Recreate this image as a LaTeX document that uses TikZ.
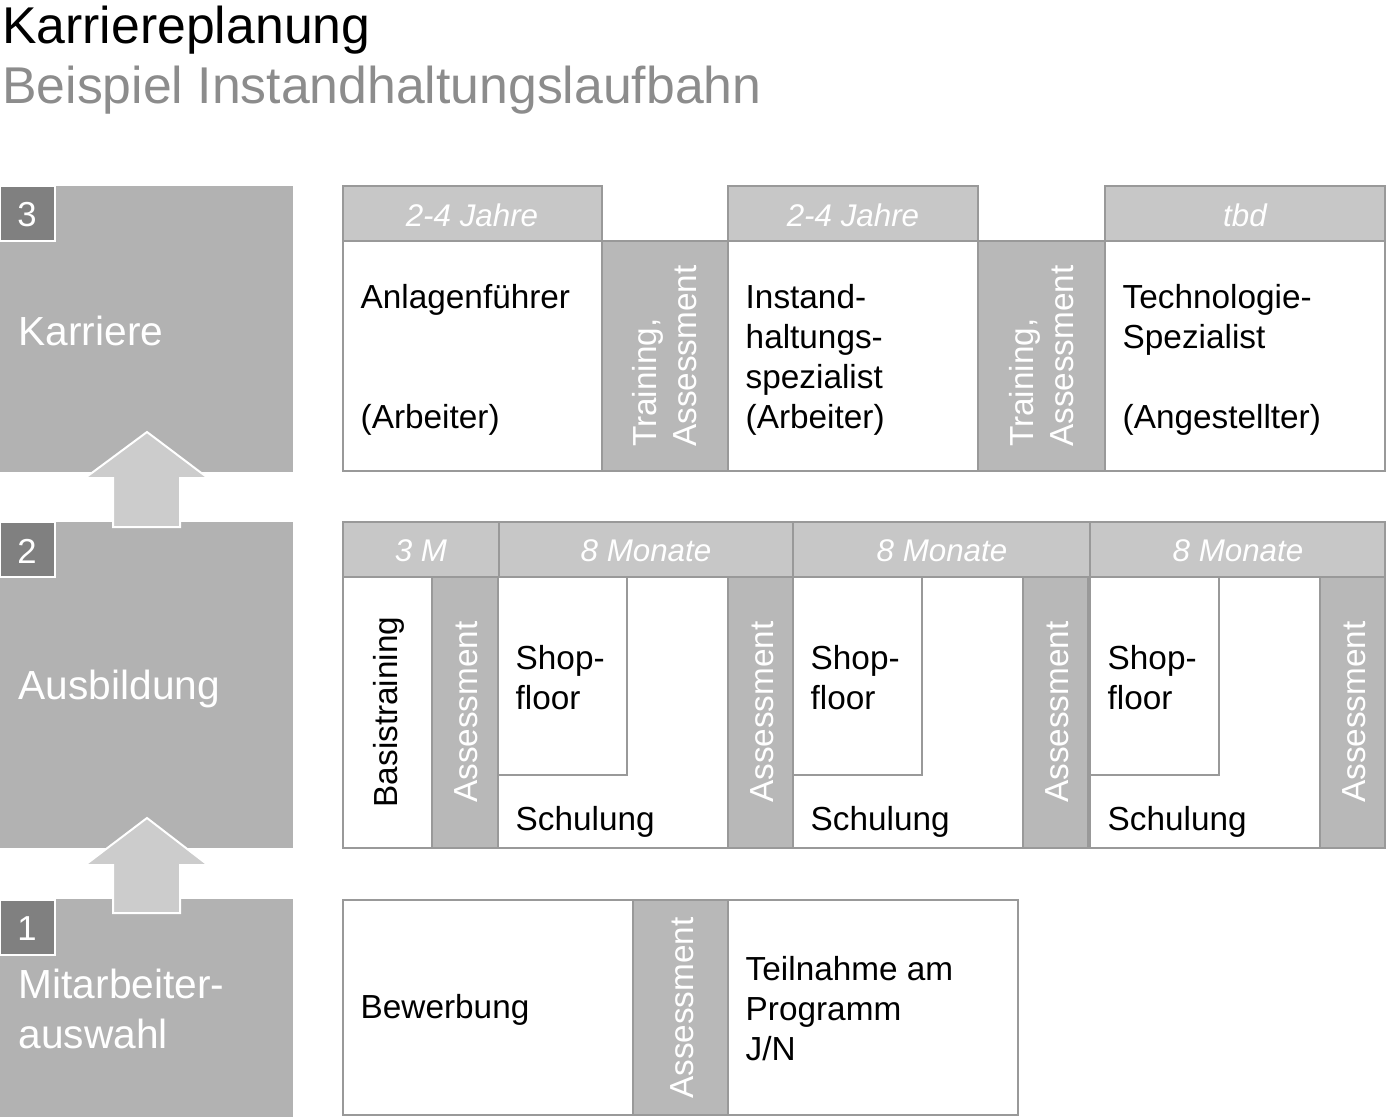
\documentclass[tikz,border=0pt]{standalone}
\usepackage{fontspec}
\setmainfont{Liberation Sans}
\begin{document}
\begin{tikzpicture}[x=0.75pt,y=-0.75pt,
  bx/.style={draw=black!40,line width=1.5pt,fill=white},
  gc/.style={draw=black!40,line width=1.5pt,fill=black!28},
  hd/.style={draw=black!40,line width=1.5pt,fill=black!22},
  lf/.style={fill=black!30},
  num/.style={fill=black!50,draw=white,line width=1.5pt},
  ht/.style={text=white,font=\fontsize{23.5}{26}\selectfont\itshape},
  tt/.style={font=\fontsize{25}{30}\selectfont,anchor=north west,align=left},
  vt/.style={font=\fontsize{25}{30}\selectfont,rotate=90,align=left},
  lt/.style={text=white,font=\fontsize{30.5}{37}\selectfont,anchor=west,align=left},
  ar/.style={fill=black!20,draw=white,line width=1.5pt}]
\useasboundingbox (0,0) rectangle (1387,1117);
\node[anchor=north west,inner sep=0,font=\fontsize{38.8}{44}\selectfont] (t1) at (2,6) {Karriereplanung};
\node[anchor=north west,inner sep=0,font=\fontsize{38.8}{44}\selectfont,text=black!45] (t2) at (2,66) {Beispiel Instandhaltungslaufbahn};
% left column
\fill[lf] (0,186) rectangle (293,472);
\fill[lf] (0,522) rectangle (293,848);
\fill[lf] (0,899) rectangle (293,1117);
\draw[ar] (113,527)--(113,478)--(85,478)--(147,432)--(208,478)--(180,478)--(180,527)--cycle;
\draw[ar] (113,913)--(113,865)--(85,865)--(147,818)--(208,865)--(180,865)--(180,913)--cycle;
\draw[num] (0,186) rectangle (55,241); \node[text=white,font=\fontsize{26}{30}\selectfont] (n3) at (27,215) {3};
\draw[num] (0,522) rectangle (55,577); \node[text=white,font=\fontsize{26}{30}\selectfont] (n2) at (27,551) {2};
\draw[num] (0,900) rectangle (55,955); \node[text=white,font=\fontsize{26}{30}\selectfont] (n1) at (27,929) {1};
\node[lt] (l3) at (14,331) {Karriere};
\node[lt] (l2) at (14,689) {Ausbildung};
\node[lt] (l1) at (14,1009) {Mitarbeiter-\\auswahl};
% row 3
\draw[hd] (343,186) rectangle (602,241); \node[ht] (h31) at (472,215) {2-4 Jahre};
\draw[hd] (728,186) rectangle (978,241); \node[ht] (h32) at (853,215) {2-4 Jahre};
\draw[hd] (1105,186) rectangle (1385,241); \node[ht] (h33) at (1245,215) {tbd};
\draw[bx] (343,241) rectangle (602,471);
\draw[gc] (602,241) rectangle (728,471);
\draw[bx] (728,241) rectangle (978,471);
\draw[gc] (978,241) rectangle (1105,471);
\draw[bx] (1105,241) rectangle (1385,471);
\node[tt] (a1) at (356,280) {Anlagenführer};
\node[tt] (a1b) at (356,400) {(Arbeiter)};
\node[vt,text=white] (tr1) at (665,356) {Training,\\Assessment};
\node[tt] (a2) at (741,280) {Instand-\\haltungs-\\spezialist\\(Arbeiter)};
\node[vt,text=white] (tr2) at (1042,356) {Training,\\Assessment};
\node[tt] (a3) at (1118,280) {Technologie-\\Spezialist};
\node[tt] (a3b) at (1118,400) {(Angestellter)};
% row 2
\draw[hd] (343,522) rectangle (499,577); \node[ht] (h21) at (421,551) {3 M};
\draw[hd] (499,522) rectangle (793,577); \node[ht] (h22) at (646,551) {8 Monate};
\draw[hd] (793,522) rectangle (1090,577); \node[ht] (h23) at (942,551) {8 Monate};
\draw[hd] (1090,522) rectangle (1385,577); \node[ht] (h24) at (1238,551) {8 Monate};
\draw[bx] (343,577) rectangle (432,848);
\node[vt] (bt) at (389,712) {Basistraining};
\draw[gc] (432,577) rectangle (498,848); \node[vt,text=white] (as1) at (466,712) {Assessment};
\foreach \x/\e/\n in {498/728/a,793/1023/b,1090/1320/c}{
  \draw[bx] (\x,577) rectangle (\e,848);
  \draw[draw=black!40,line width=1.5pt] (\x,775) -- (\x+129,775) -- (\x+129,577);
  \node[tt] (sf\n) at (\x+13,641) {Shop-\\floor};
  \node[tt] (sc\n) at (\x+13,802) {Schulung};
  \draw[gc] (\e,577) rectangle (\e+65,848);
  \node[vt,text=white] (as\n) at (\e+34,712) {Assessment};
}
% row 1
\draw[bx] (343,900) rectangle (633,1115);
\node[tt,anchor=west] (bw) at (356,1010) {Bewerbung};
\draw[gc] (633,900) rectangle (728,1115); \node[vt,text=white] (as0) at (682,1008) {Assessment};
\draw[bx] (728,900) rectangle (1018,1115);
\node[tt] (tn) at (741,952) {Teilnahme am\\Programm\\J/N};
\end{tikzpicture}
\end{document}
